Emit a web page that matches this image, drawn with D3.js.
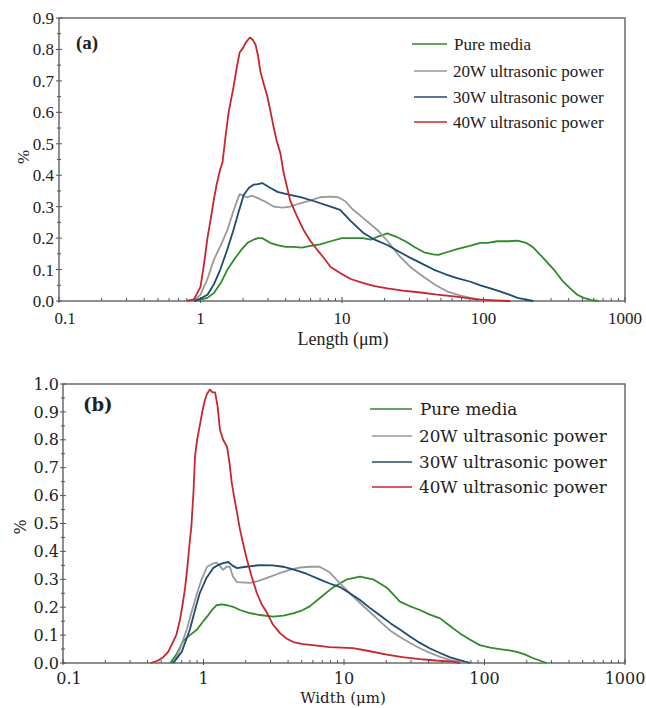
<!DOCTYPE html>
<html lang="en">
<head>
    <meta charset="UTF-8">
    <title>Length and width distribution</title>
    <script src="https://d3js.org/d3.v7.min.js"></script>
    <style>
        body { margin: 0; background: #fff; }
        text { font-family: 'Liberation Serif', 'Times New Roman', serif; fill: #222; }
        .b text { font-family: 'DejaVu Serif', serif; }
    </style>
</head>
<body>
<script>
    const width  = 646;
    const height = 708;

    const seriesNames = ['Pure media', '20W ultrasonic power', '30W ultrasonic power', '40W ultrasonic power'];
    const seriesColors = ['#2f8a2a', '#999999', '#1f4a72', '#c7262c'];

    const xTicks = [0.1, 1, 10, 100, 1000];
    const yTicksA = [0, 0.1, 0.2, 0.3, 0.4, 0.5, 0.6, 0.7, 0.8, 0.9];
    const yTicksB = [0, 0.1, 0.2, 0.3, 0.4, 0.5, 0.6, 0.7, 0.8, 0.9, 1.0];

    // (a) length, [µm, %]
    const lengthPure = [[0.9,0],[1.0,0.004],[1.12,0.01],[1.24,0.025],[1.4,0.06],[1.55,0.1],[1.75,0.135],[1.92,0.16],[2.15,0.185],[2.37,0.195],[2.55,0.2],[2.73,0.2],[3.1,0.185],[3.5,0.178],[4,0.172],[4.55,0.172],[5.2,0.17],[6,0.175],[7,0.18],[8.3,0.19],[10,0.2],[12,0.2],[14,0.2],[16,0.195],[18,0.205],[20.9,0.215],[24,0.205],[28,0.19],[33,0.17],[38,0.155],[44,0.148],[48,0.147],[55,0.155],[65,0.165],[80,0.175],[95,0.185],[107,0.185],[125,0.19],[150,0.19],[174,0.192],[200,0.185],[225,0.17],[260,0.14],[314,0.1],[360,0.065],[410,0.04],[460,0.02],[510,0.01],[580,0.003],[652,0]];
    const length20W = [[0.9,0],[1.0,0.02],[1.12,0.07],[1.24,0.13],[1.4,0.18],[1.55,0.226],[1.72,0.29],[1.89,0.34],[2.0,0.335],[2.14,0.33],[2.3,0.335],[2.52,0.328],[2.9,0.315],[3.3,0.3],[3.8,0.297],[4.3,0.3],[5,0.31],[6,0.32],[7,0.33],[8.3,0.332],[9.4,0.33],[10.5,0.318],[12,0.29],[14,0.265],[17.8,0.226],[21,0.19],[25.8,0.14],[31,0.105],[37.7,0.077],[46,0.05],[55.6,0.03],[68,0.018],[81,0.01],[95,0.004],[112,0]];
    const length30W = [[0.9,0],[1.0,0.008],[1.12,0.02],[1.25,0.055],[1.38,0.1],[1.55,0.165],[1.71,0.226],[1.85,0.28],[2.02,0.337],[2.2,0.36],[2.37,0.37],[2.55,0.372],[2.73,0.375],[3.1,0.36],[3.5,0.347],[4.2,0.338],[5.1,0.33],[6.3,0.318],[8.3,0.3],[9.7,0.29],[11.5,0.255],[14.2,0.216],[17,0.195],[20.9,0.178],[25,0.158],[30.5,0.137],[37,0.118],[44.4,0.1],[54,0.085],[65,0.073],[80,0.062],[95,0.05],[112,0.04],[132,0.03],[152,0.02],[174,0.01],[200,0.004],[225,0]];
    const length40W = [[0.8,0],[0.9,0.005],[1.0,0.045],[1.06,0.12],[1.12,0.2],[1.18,0.26],[1.24,0.32],[1.3,0.37],[1.38,0.42],[1.43,0.44],[1.5,0.52],[1.58,0.6],[1.71,0.68],[1.8,0.74],[1.89,0.79],[2.0,0.805],[2.08,0.82],[2.16,0.83],[2.23,0.838],[2.35,0.83],[2.45,0.815],[2.55,0.78],[2.65,0.73],[2.8,0.69],[2.97,0.65],[3.1,0.61],[3.28,0.555],[3.45,0.51],[3.67,0.47],[3.86,0.41],[4.3,0.32],[4.8,0.27],[5.35,0.226],[6,0.19],[6.7,0.162],[7.5,0.135],[8.3,0.108],[9.7,0.089],[11.5,0.07],[14.2,0.057],[17,0.047],[20.9,0.04],[27,0.033],[35.8,0.027],[47,0.02],[61.7,0.015],[75,0.01],[90,0.005],[120,0.002],[155,0]];

    // (b) width, [µm, %]
    const widthPure = [[0.58,0],[0.64,0.03],[0.72,0.08],[0.8,0.1],[0.9,0.12],[0.98,0.145],[1.06,0.166],[1.15,0.19],[1.24,0.207],[1.35,0.21],[1.47,0.207],[1.65,0.2],[1.82,0.19],[2.1,0.18],[2.52,0.172],[3.13,0.166],[3.7,0.17],[4.35,0.178],[5,0.188],[5.7,0.203],[6.7,0.232],[8.3,0.27],[10.5,0.3],[13,0.31],[16.1,0.3],[20.2,0.27],[25,0.22],[29,0.205],[34.7,0.19],[40,0.175],[48.3,0.16],[56,0.135],[66.5,0.107],[78,0.085],[92.6,0.064],[110,0.055],[128,0.05],[150,0.045],[170,0.04],[195,0.03],[220,0.018],[250,0.008],[277,0]];
    const width20W = [[0.61,0],[0.68,0.05],[0.76,0.12],[0.82,0.18],[0.9,0.25],[0.97,0.3],[1.06,0.345],[1.15,0.355],[1.24,0.36],[1.38,0.334],[1.46,0.345],[1.54,0.345],[1.62,0.31],[1.73,0.29],[2.14,0.287],[2.5,0.295],[2.83,0.305],[3.4,0.32],[4.1,0.334],[4.8,0.342],[5.7,0.345],[6.7,0.345],[7.9,0.325],[9.3,0.287],[11,0.25],[13,0.215],[15.5,0.18],[18.6,0.143],[21.5,0.115],[25,0.093],[30,0.07],[34.7,0.053],[41,0.036],[48.3,0.022],[57,0.01],[66.5,0.004],[79,0]];
    const width30W = [[0.61,0],[0.7,0.04],[0.8,0.12],[0.87,0.19],[0.94,0.25],[1.05,0.305],[1.17,0.34],[1.28,0.352],[1.38,0.358],[1.5,0.362],[1.6,0.35],[1.73,0.34],[2.0,0.345],[2.52,0.351],[3.1,0.35],[3.68,0.345],[4.4,0.335],[5.4,0.32],[6.7,0.3],[7.9,0.285],[9.3,0.273],[11,0.25],[13,0.226],[15.5,0.195],[18.6,0.166],[21.5,0.142],[25,0.12],[29.5,0.095],[34.7,0.072],[41,0.052],[48.3,0.036],[57,0.02],[66.5,0.01],[79,0]];
    const width40W = [[0.42,0],[0.47,0.008],[0.515,0.02],[0.56,0.04],[0.6,0.07],[0.64,0.1],[0.68,0.154],[0.71,0.21],[0.74,0.27],[0.77,0.35],[0.8,0.44],[0.82,0.49],[0.85,0.62],[0.87,0.74],[0.9,0.8],[0.94,0.85],[0.98,0.9],[1.02,0.94],[1.06,0.965],[1.11,0.98],[1.16,0.97],[1.21,0.97],[1.26,0.92],[1.31,0.835],[1.38,0.8],[1.47,0.775],[1.53,0.72],[1.59,0.645],[1.66,0.59],[1.73,0.54],[1.82,0.477],[1.93,0.42],[2.04,0.37],[2.2,0.31],[2.4,0.25],[2.6,0.21],[2.83,0.18],[3.1,0.14],[3.5,0.107],[3.9,0.088],[4.35,0.075],[5.1,0.068],[6,0.064],[7.9,0.057],[11.6,0.053],[15,0.043],[20.2,0.03],[26,0.021],[34.7,0.014],[45,0.009],[59.7,0.005],[67,0]];

    const panels = [
        { cls: 'a', tag: '(a)', title: 'Length (\u03bcm)', series: [lengthPure, length20W, length30W, length40W],
          xr: [59, 625], yr: [301, 18], ymax: 0.9, yTicks: yTicksA,
          font: 17, legFont: 17, titleFont: 18, tagPos: [76, 49], titleY: 345, xLabY: 324, yLabX: 54, pctPos: [23, 157],
          legX: [412, 447, 453], legY: [44, 71, 97, 122] },
        { cls: 'b', tag: '(b)', title: 'Width (\u03bcm)', series: [widthPure, width20W, width30W, width40W],
          xr: [63, 625], yr: [663, 384], ymax: 1.0, yTicks: yTicksB,
          font: 16, legFont: 16.8, titleFont: 15, tagPos: [83, 411], titleY: 703, xLabY: 684, yLabX: 59, pctPos: [20, 527],
          legX: [370, 412, 419], legY: [409, 436, 462, 487] }
    ];

    const svg = d3.select('body').append('svg').attr('width', width).attr('height', height);

    panels.forEach(draw);

    function draw(p) {
        const g = svg.append('g').attr('class', p.cls);
        const x = d3.scaleLog().domain([0.1, 1000]).range(p.xr);
        const y = d3.scaleLinear().domain([0, p.ymax]).range(p.yr);
        const axisColor = '#555';

        // frame
        g.append('rect')
            .attr('x', p.xr[0]).attr('y', p.yr[1])
            .attr('width', p.xr[1] - p.xr[0]).attr('height', p.yr[0] - p.yr[1])
            .attr('fill', 'none').attr('stroke', axisColor).attr('stroke-width', 1.3);

        // y ticks (crossing) + minor
        const yMinor = p.yTicks.slice(0, -1).map(v => v + 0.05);
        g.selectAll('.ymaj').data(p.yTicks).enter().append('line')
            .attr('x1', p.xr[0] - 3).attr('x2', p.xr[0] + 3)
            .attr('y1', d => y(d)).attr('y2', d => y(d))
            .attr('stroke', axisColor);
        g.selectAll('.ymin').data(yMinor).enter().append('line')
            .attr('x1', p.xr[0] - 2).attr('x2', p.xr[0] + 2)
            .attr('y1', d => y(d)).attr('y2', d => y(d))
            .attr('stroke', axisColor);
        g.selectAll('.ylab').data(p.yTicks).enter().append('text')
            .attr('x', p.yLabX).attr('y', d => y(d) + p.font * 0.35)
            .attr('text-anchor', 'end').style('font-size', p.font + 'px')
            .text(d => d.toFixed(1));

        // x ticks
        const xMinor = [];
        xTicks.slice(0, -1).forEach(t => { for (let k = 2; k < 10; k++) xMinor.push(t * k); });
        g.selectAll('.xmaj').data(xTicks).enter().append('line')
            .attr('x1', d => x(d)).attr('x2', d => x(d))
            .attr('y1', p.yr[0] - 4).attr('y2', p.yr[0] + 2)
            .attr('stroke', axisColor);
        g.selectAll('.xmin').data(xMinor).enter().append('line')
            .attr('x1', d => x(d)).attr('x2', d => x(d))
            .attr('y1', p.yr[0] - 3).attr('y2', p.yr[0])
            .attr('stroke', axisColor);
        g.selectAll('.xlab').data(xTicks).enter().append('text')
            .attr('x', d => x(d) + (d === 0.1 ? 6 : 0)).attr('y', p.xLabY)
            .attr('text-anchor', 'middle').style('font-size', p.font + 'px')
            .text(d => d);

        // titles
        g.append('text').attr('x', 343).attr('y', p.titleY)
            .attr('text-anchor', 'middle').style('font-size', p.titleFont + 'px')
            .text(p.title);
        g.append('text')
            .attr('transform', 'translate(' + p.pctPos + ') rotate(-90)')
            .attr('text-anchor', 'middle').attr('dy', '0.35em')
            .style('font-size', p.font + 'px').text('%');
        g.append('text').attr('x', p.tagPos[0]).attr('y', p.tagPos[1])
            .style('font-size', (p.font + 2) + 'px').style('font-weight', 'bold')
            .text(p.tag);

        // curves
        const line = d3.line().x(d => x(d[0])).y(d => y(d[1]));
        p.series.forEach((s, i) => {
            g.append('path').attr('d', line(s))
                .attr('fill', 'none').attr('stroke', seriesColors[i])
                .attr('stroke-width', 1.8).attr('stroke-linejoin', 'round');
        });

        // legend
        seriesNames.forEach((name, i) => {
            g.append('line')
                .attr('x1', p.legX[0] + (i === 0 ? 0 : 2)).attr('x2', p.legX[1])
                .attr('y1', p.legY[i]).attr('y2', p.legY[i])
                .attr('stroke', seriesColors[i]).attr('stroke-width', 1.5);
            g.append('text').attr('x', p.legX[2] + (i === 0 ? 1 : 0)).attr('y', p.legY[i])
                .attr('dy', '0.35em').style('font-size', p.legFont + 'px')
                .text(name);
        });
    }
</script>
</body>
</html>
